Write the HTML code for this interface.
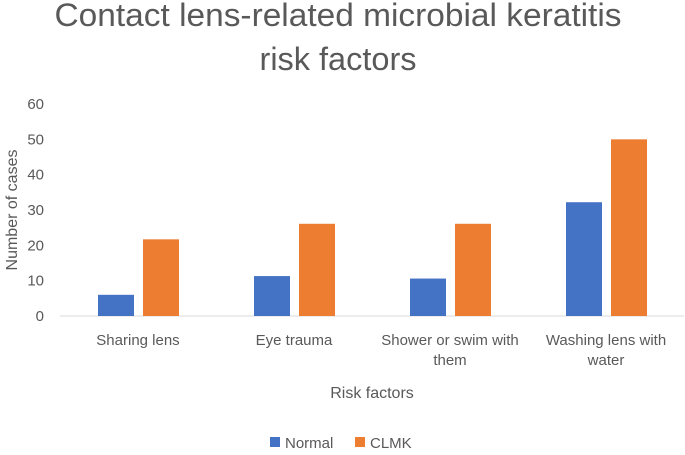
<!DOCTYPE html>
<html><head><meta charset="utf-8"><style>
body{margin:0;background:#fff;font-family:"Liberation Sans",sans-serif}
svg text{font-family:"Liberation Sans",sans-serif;fill:#595959}
</style></head><body>
<svg id="chart" width="685" height="450">
<text x="338" y="26" font-size="32" text-anchor="middle" textLength="567" lengthAdjust="spacingAndGlyphs">Contact lens-related microbial keratitis</text>
<text x="338" y="70" font-size="32" text-anchor="middle" textLength="157" lengthAdjust="spacingAndGlyphs">risk factors</text>
<g id="yticks"></g><g id="bars"></g><g id="xlabels"></g>
<text transform="translate(17,210) rotate(-90)" font-size="16" text-anchor="middle">Number of cases</text>
<text x="372" y="398" font-size="16" text-anchor="middle">Risk factors</text>
<g>
<rect x="270" y="437" width="10" height="10" fill="#4472c4"/>
<text x="285" y="448" font-size="15">Normal</text>
<rect x="355" y="437" width="10" height="10" fill="#ed7d31"/>
<text x="370" y="448" font-size="15">CLMK</text>
</g>
</svg>
<script>
const categories=[["Sharing lens"],["Eye trauma"],["Shower or swim with","them"],["Washing lens with","water"]];
const normalValues=[6,11.3,10.6,32.2];
const clmkValues=[21.7,26.1,26.1,50];
const yTicks=[0,10,20,30,40,50,60];
const NS="http://www.w3.org/2000/svg";
const x0=60,plotW=624,yBase=316,yTop=104,yMax=60;
const yScale=v=>yBase-(yBase-yTop)*v/yMax;
const catW=plotW/categories.length;
const cx=i=>x0+catW*(i+0.5);
function mk(tag,attrs,parent){const e=document.createElementNS(NS,tag);for(const k in attrs)e.setAttribute(k,attrs[k]);document.getElementById(parent).appendChild(e);return e;}
yTicks.forEach(t=>{
 const e=mk("text",{x:44,y:yScale(t)+5,"font-size":15,"text-anchor":"end"},"yticks");
 e.textContent=t;
 
 
});
const ax=mk("line",{x1:x0,x2:x0+plotW,y1:yBase,y2:yBase,stroke:"#d9d9d9","stroke-width":1},"yticks");


categories.forEach((c,i)=>{
 const n=mk("rect",{x:cx(i)-40,y:yScale(normalValues[i]),width:36,height:yBase-yScale(normalValues[i]),fill:"#4472c4"},"bars");
 
 
 const m=mk("rect",{x:cx(i)+5,y:yScale(clmkValues[i]),width:36,height:yBase-yScale(clmkValues[i]),fill:"#ed7d31"},"bars");
 
 
 c.forEach((line,j)=>{
  const t=mk("text",{x:cx(i),y:345+j*20,"font-size":15,"text-anchor":"middle"},"xlabels");
  t.textContent=line;
  
  
 });
});
</script>
</body></html>
